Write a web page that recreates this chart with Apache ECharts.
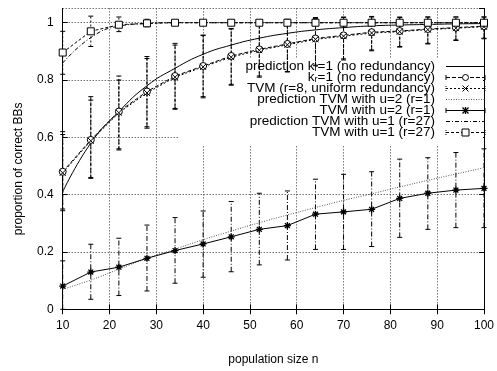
<!DOCTYPE html>
<html><head><meta charset="utf-8">
<script src="https://cdn.jsdelivr.net/npm/echarts@6/dist/echarts.min.js"></script>
<style>html,body{margin:0;padding:0;background:#fff}#c{width:497px;height:371px}</style>
</head><body><div id="c"></div>
<script>
// ---- data ----
const nValues = [10,16,22,28,34,40,46,52,58,64,70,76,82,88,94,100];

const predK1 = [0.41,0.58,0.69,0.78,0.841,0.89,0.922,0.946,0.963,0.975,0.983,0.989,0.992,0.994,0.996,0.997];

const k1Mean = [0.480,0.591,0.690,0.760,0.814,0.849,0.884,0.907,0.926,0.945,0.956,0.967,0.971,0.978,0.983,0.988];
const k1Low  = [0.344,0.457,0.556,0.637,0.701,0.742,0.785,0.814,0.830,0.850,0.870,0.905,0.917,0.928,0.940,0.946];
const k1High = [0.620,0.742,0.800,0.882,0.928,0.957,0.980,0.998,1.012,1.018,1.020,1.022,1.020,1.020,1.020,1.020];

const r8Mean = [0.476,0.588,0.686,0.755,0.810,0.846,0.880,0.904,0.923,0.942,0.953,0.964,0.969,0.976,0.981,0.986];
const r8Low  = [0.350,0.460,0.560,0.632,0.698,0.738,0.782,0.810,0.828,0.852,0.874,0.902,0.915,0.926,0.938,0.944];
const r8High = [0.610,0.730,0.814,0.875,0.922,0.955,0.978,0.995,1.010,1.015,1.018,1.020,1.018,1.020,1.020,1.020];

const predU2 = [0.070,0.102,0.140,0.178,0.210,0.243,0.273,0.302,0.329,0.355,0.380,0.403,0.427,0.450,0.472,0.494];

const u2Mean = [0.081,0.130,0.147,0.178,0.205,0.228,0.253,0.279,0.292,0.332,0.340,0.349,0.387,0.405,0.416,0.422];
const u2Low  = [0.000,0.035,0.048,0.064,0.091,0.112,0.131,0.155,0.172,0.209,0.209,0.219,0.251,0.279,0.285,0.285];
const u2High = [0.169,0.227,0.248,0.294,0.320,0.343,0.376,0.405,0.413,0.454,0.471,0.480,0.524,0.529,0.547,0.560];

const predU1 = [0.859,0.948,0.988,0.997,1,1,1,1,1,1,1,1,1,1,1,1];

const u1Mean = [0.896,0.970,0.993,0.998,1,1,1,1,1,1,1,1,1,1,1,1];
const u1Low  = [0.820,0.917,0.969,0.986,0.997,1,1,1,1,1,1,1,1,1,1,1];
const u1High = [0.970,1.023,1.020,1.012,1.003,1,1,1,1,1,1,1,1,1,1,1];

const seriesNames = [
  'prediction k_r=1 (no redundancy)',
  'k_r=1 (no redundancy)',
  'TVM (r=8, uniform redundancy)',
  'prediction TVM with u=2 (r=1)',
  'TVM with u=2 (r=1)',
  'prediction TVM with u=1 (r=27)',
  'TVM with u=1 (r=27)'
];

// ---- styles ----
const FONT = "'Liberation Sans', Arial, Helvetica, sans-serif";
const pairs = arr => nValues.map((n, i) => [n, arr[i]]);

const STYLE = [
  { color: '#000', dash: null,          marker: null,     caps: false, capDash: null },
  { color: '#000', dash: [4, 2],        marker: 'circle', caps: true,  capDash: null },
  { color: '#000', dash: [2, 2],        marker: 'x',      caps: true,  capDash: [1, 1] },
  { color: '#555', dash: [1, 1.5],      marker: null,     caps: false, capDash: null },
  { color: '#000', dash: null,          marker: 'star',   caps: true,  capDash: null },
  { color: '#000', dash: [4, 2, 1, 2],  marker: null,     caps: false, capDash: null },
  { color: '#000', dash: [3, 2],        marker: 'rect',   caps: true,  capDash: [1, 1] }
];
const BAR_DASH = { 1: [4, 2], 2: [2, 2], 4: [5, 2, 1, 2], 6: [2, 2] };

function errSeries(idx, low, high) {
  const dash = BAR_DASH[idx];
  return {
    type: 'custom', name: seriesNames[idx] + ' err', z: 3, silent: true, clip: false,
    data: nValues.map((n, i) => [n, low[i], high[i]]),
    encode: { x: 0, y: [1, 2] },
    renderItem: function (params, api) {
      const x = api.value(0), lo = api.value(1), hi = api.value(2);
      if (hi - lo < 1e-9) return null;
      const p1 = api.coord([x, lo]), p2 = api.coord([x, hi]);
      const w = 2.5;
      const capStyle = { stroke: '#000', lineWidth: 1 };
      return { type: 'group', children: [
        { type: 'line', shape: { x1: p1[0], y1: p1[1], x2: p2[0], y2: p2[1] }, style: { stroke: '#000', lineWidth: 1, lineDash: dash } },
        { type: 'line', shape: { x1: p1[0] - w, y1: p1[1], x2: p1[0] + w, y2: p1[1] }, style: capStyle },
        { type: 'line', shape: { x1: p2[0] - w, y1: p2[1], x2: p2[0] + w, y2: p2[1] }, style: capStyle }
      ]};
    }
  };
}

const X_SYM = 'path://M0,0L10,10M10,0L0,10';
const STAR_SYM = 'path://M5,0L5,10M0,5L10,5M1.5,1.5L8.5,8.5M8.5,1.5L1.5,8.5';
const SYMBOLS = { circle: 'circle', x: X_SYM, star: STAR_SYM, rect: 'rect' };
const SYMSIZE = { circle: 7, x: 6, star: 7, rect: 7 };

function lineSeries(idx, values) {
  const st = STYLE[idx];
  const s = {
    type: 'line', name: seriesNames[idx], data: pairs(values),
    lineStyle: { color: st.color, width: 1, type: st.dash || 'solid' }, z: st.marker ? 5 : 4
  };
  if (st.marker) {
    s.symbol = SYMBOLS[st.marker];
    s.symbolSize = SYMSIZE[st.marker];
    s.itemStyle = { color: '#fff', borderColor: '#000', borderWidth: st.marker === 'star' ? 1.3 : 1 };
  } else {
    s.symbol = 'none';
    s.smooth = true;
  }
  return s;
}

// ---- legend built as graphic elements (gnuplot-style key) ----
function legendGraphics() {
  const out = [];
  const textRight = 435, x0 = 446, x1 = 485, xm = (x0 + x1) / 2;
  seriesNames.forEach((name, i) => {
    const st = STYLE[i];
    const y = 66.5 + 11 * i;
    out.push({
      type: 'text', z: 10, silent: true,
      style: {
        text: name.replace('_r', '{sub|r}'), x: textRight, y: y, align: 'right', verticalAlign: 'middle',
        fill: '#000', font: '13.5px ' + FONT, lineHeight: 14,
        rich: { sub: { fontSize: 9, fontFamily: FONT, lineHeight: 14, verticalAlign: 'bottom', fill: '#000' } }
      }
    });
    out.push({ type: 'line', z: 10, silent: true, shape: { x1: x0, y1: y, x2: x1, y2: y },
      style: { stroke: st.color, lineWidth: 1, lineDash: st.dash } });
    if (st.caps) {
      [x0, x1].forEach(cx => out.push({ type: 'line', z: 10, silent: true,
        shape: { x1: cx, y1: y - 2.5, x2: cx, y2: y + 2.5 }, style: { stroke: '#000', lineWidth: 1, lineDash: st.capDash } }));
    }
    if (st.marker === 'circle') {
      out.push({ type: 'circle', z: 11, silent: true, shape: { cx: xm, cy: y, r: 3 }, style: { fill: '#fff', stroke: '#000', lineWidth: 1 } });
    } else if (st.marker === 'rect') {
      out.push({ type: 'rect', z: 11, silent: true, shape: { x: xm - 3.5, y: y - 3.5, width: 7, height: 7 }, style: { fill: '#fff', stroke: '#000', lineWidth: 1 } });
    } else if (st.marker === 'x' || st.marker === 'star') {
      const r = 3;
      const segs = [[-r, -r, r, r], [r, -r, -r, r]];
      if (st.marker === 'star') segs.push([0, -r - 0.5, 0, r + 0.5], [-r - 0.5, 0, r + 0.5, 0]);
      segs.forEach(sg => out.push({ type: 'line', z: 11, silent: true,
        shape: { x1: xm + sg[0], y1: y + sg[1], x2: xm + sg[2], y2: y + sg[3] },
        style: { stroke: '#000', lineWidth: st.marker === 'star' ? 1.3 : 1 } }));
    }
  });
  return out;
}

const chart = echarts.init(document.getElementById('c'), null, { renderer: 'canvas' });

const tickInside = { show: true, inside: true, length: 5, lineStyle: { color: '#000', width: 1 } };
const axisLineBlack = { show: true, lineStyle: { color: '#000', width: 1 } };
const gridLine = { show: true, lineStyle: { color: '#333', width: 1, type: [1, 2] } };

chart.setOption({
  animation: false,
  backgroundColor: '#fff',
  grid: { left: 62.7, right: 7.7, top: 8.4, bottom: 61.7, containLabel: false },
  xAxis: [
    {
      type: 'value', min: 10, max: 100, interval: 10, position: 'bottom',
      axisLine: axisLineBlack, axisTick: tickInside, splitLine: gridLine,
      axisLabel: { color: '#000', fontSize: 12, fontFamily: FONT, margin: 10 },
      name: 'population size n', nameLocation: 'middle', nameGap: 44,
      nameTextStyle: { color: '#000', fontSize: 12, fontFamily: FONT }
    },
    {
      type: 'value', min: 10, max: 100, interval: 10, position: 'top',
      axisLine: axisLineBlack, axisTick: tickInside, splitLine: { show: false },
      axisLabel: { show: false }
    }
  ],
  yAxis: [
    {
      type: 'value', min: 0, max: 1.05, interval: 0.2, position: 'left',
      axisLine: axisLineBlack, axisTick: tickInside, splitLine: gridLine,
      axisLabel: { color: '#000', fontSize: 12, fontFamily: FONT, margin: 9, showMaxLabel: false,
        formatter: v => String(Math.round(v * 10) / 10) },
      name: 'proportion of correct BBs', nameLocation: 'middle', nameGap: 38,
      nameTextStyle: { color: '#000', fontSize: 12, fontFamily: FONT, padding: [0, 20, 0, 0] }
    },
    {
      type: 'value', min: 0, max: 1.05, interval: 0.2, position: 'right',
      axisLine: axisLineBlack, axisTick: tickInside, splitLine: { show: false },
      axisLabel: { show: false }
    }
  ],
  graphic: [
    { type: 'rect', z: 1, silent: true, shape: { x: 179, y: 58, width: 304, height: 88 }, style: { fill: '#fff' } }
  ].concat(legendGraphics()),
  series: [
    errSeries(1, k1Low, k1High),
    errSeries(2, r8Low, r8High),
    errSeries(4, u2Low, u2High),
    errSeries(6, u1Low, u1High),
    lineSeries(0, predK1),
    lineSeries(1, k1Mean),
    lineSeries(2, r8Mean),
    lineSeries(3, predU2),
    lineSeries(4, u2Mean),
    lineSeries(5, predU1),
    lineSeries(6, u1Mean)
  ]
});
</script>
</body></html>
